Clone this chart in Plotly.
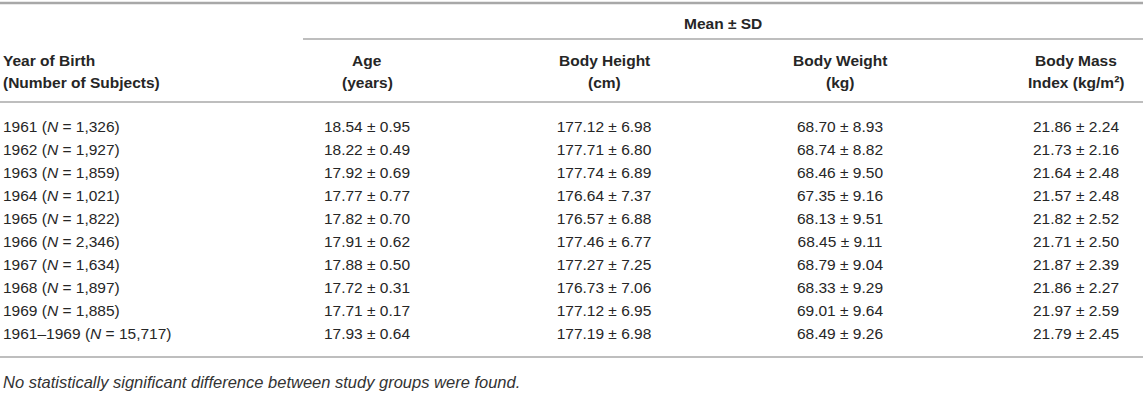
import plotly.graph_objects as go

# table values
years = ["1961", "1962", "1963", "1964", "1965", "1966", "1967", "1968", "1969", "1961–1969"]
subjects = [1326, 1927, 1859, 1021, 1822, 2346, 1634, 1897, 1885, 15717]
age_mean = [18.54, 18.22, 17.92, 17.77, 17.82, 17.91, 17.88, 17.72, 17.71, 17.93]
age_sd = [0.95, 0.49, 0.69, 0.77, 0.70, 0.62, 0.50, 0.31, 0.17, 0.64]
height_mean = [177.12, 177.71, 177.74, 176.64, 176.57, 177.46, 177.27, 176.73, 177.12, 177.19]
height_sd = [6.98, 6.80, 6.89, 7.37, 6.88, 6.77, 7.25, 7.06, 6.95, 6.98]
weight_mean = [68.70, 68.74, 68.46, 67.35, 68.13, 68.45, 68.79, 68.33, 69.01, 68.49]
weight_sd = [8.93, 8.82, 9.50, 9.16, 9.51, 9.11, 9.04, 9.29, 9.64, 9.26]
bmi_mean = [21.86, 21.73, 21.64, 21.57, 21.82, 21.71, 21.87, 21.86, 21.97, 21.79]
bmi_sd = [2.24, 2.16, 2.48, 2.48, 2.52, 2.50, 2.39, 2.27, 2.59, 2.45]

col_headers = [["Age", "(years)"], ["Body Height", "(cm)"], ["Body Weight", "(kg)"], ["Body Mass", "Index (kg/m²)"]]
first_header = ["Year of Birth", "(Number of Subjects)"]
group_header = "Mean ± SD"
footnote = "No statistically significant difference between study groups were found."

# layout: x in pixels, y in row units (row 0 = first data row)
W, H = 1143, 410
ROW0, STEP = 128, 23.0
col_x = [367, 604, 840, 1076]
FONT = "Liberation Sans, Arial, sans-serif"
FS = 15.5
TXT = "#262626"
RULE = "#a8a8a8"


def ry(px):
    # pixel row -> row units
    return (px - ROW0) / STEP


rows = list(range(len(years)))
fig = go.Figure()

labels = [f"{y} (<i>N</i> = {n:,})" for y, n in zip(years, subjects)]
fig.add_trace(go.Scatter(x=[3] * len(rows), y=rows, mode="text", text=labels,
                         textposition="middle right", cliponaxis=False,
                         textfont=dict(family=FONT, size=FS, color=TXT)))

for cx, means, sds in zip(col_x, [age_mean, height_mean, weight_mean, bmi_mean],
                          [age_sd, height_sd, weight_sd, bmi_sd]):
    cells = [f"{m:.2f} ± {s:.2f}" for m, s in zip(means, sds)]
    fig.add_trace(go.Scatter(x=[cx] * len(rows), y=rows, mode="text", text=cells,
                             textposition="middle center", cliponaxis=False,
                             textfont=dict(family=FONT, size=FS, color=TXT)))

bold = dict(family=FONT, size=FS, color=TXT)
ann = []
ann.append(dict(x=(303 + W) / 2, y=ry(23), text=f"<b>{group_header}</b>"))
for cx, (l1, l2) in zip(col_x, col_headers):
    ann.append(dict(x=cx, y=ry(60), text=f"<b>{l1}</b>"))
    ann.append(dict(x=cx, y=ry(82), text=f"<b>{l2}</b>"))
for a in ann:
    a.update(xref="x", yref="y", showarrow=False, font=bold, xanchor="center", yanchor="middle")
for py, t in zip([60, 82], first_header):
    ann.append(dict(x=1, y=ry(py), text=f"<b>{t}</b>", xref="x", yref="y", showarrow=False,
                    font=bold, xanchor="left", yanchor="middle"))
ann.append(dict(x=1, y=ry(382), text=f"<i>{footnote}</i>", xref="x", yref="y", showarrow=False,
                font=dict(family=FONT, size=16.5, color="#333333"), xanchor="left", yanchor="middle"))

shapes = [
    dict(x0=0, x1=W, y0=ry(3), y1=ry(3), width=2.5),
    dict(x0=303, x1=W, y0=ry(39), y1=ry(39), width=1.5),
    dict(x0=0, x1=W, y0=ry(102), y1=ry(102), width=1.5),
    dict(x0=0, x1=W, y0=ry(357), y1=ry(357), width=1.5),
]
for s in shapes:
    w = s.pop("width")
    s.update(type="line", xref="x", yref="y", line=dict(color=RULE, width=w))

fig.update_layout(
    width=W, height=H,
    margin=dict(l=0, r=0, t=0, b=0),
    paper_bgcolor="white", plot_bgcolor="white",
    showlegend=False,
    annotations=ann, shapes=shapes,
    xaxis=dict(range=[0, W], visible=False, fixedrange=True),
    yaxis=dict(range=[ry(H), ry(0)], visible=False, fixedrange=True),
)

# drop the browser's default 8px page margin so the figure sits at the corner
fig.write_html("out.html", config={"displayModeBar": False},
               post_script="document.body.style.margin='0';")
